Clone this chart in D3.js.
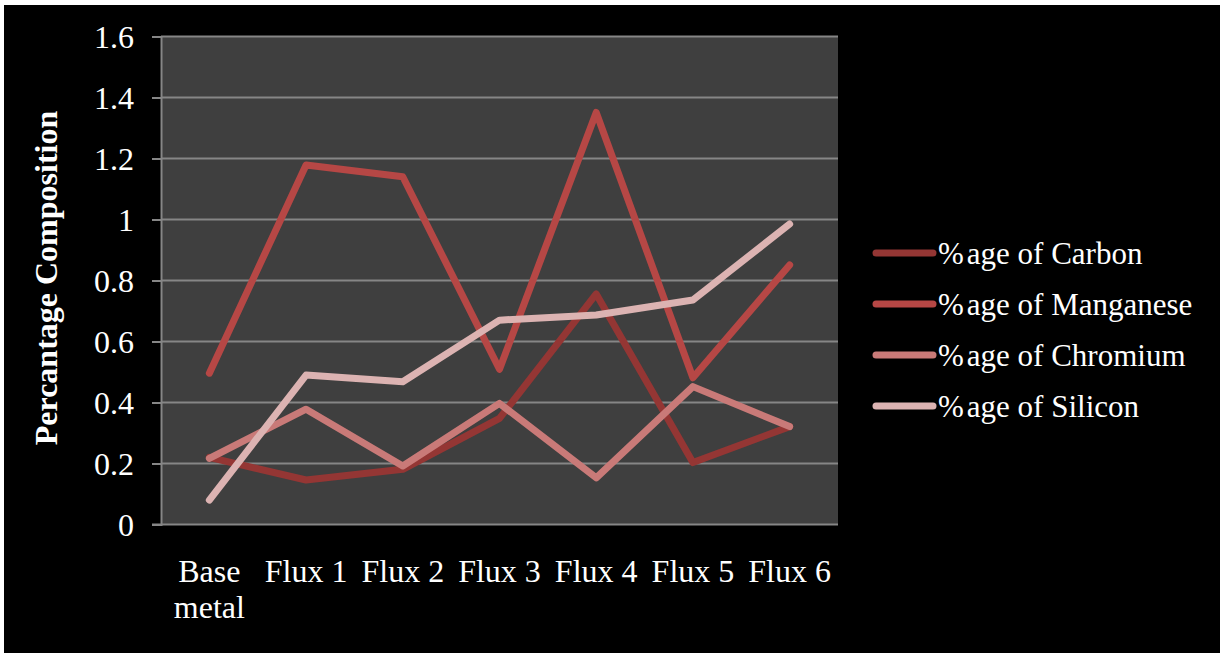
<!DOCTYPE html>
<html>
<head>
<meta charset="utf-8">
<script src="https://cdn.jsdelivr.net/npm/d3@7/dist/d3.min.js"></script>
<style>
  html, body { margin: 0; padding: 0; background: #ffffff; }
  svg { display: block; }
</style>
</head>
<body>
<script>
// Sample labels along the x axis
const categories = ["Base metal", "Flux 1", "Flux 2", "Flux 3", "Flux 4", "Flux 5", "Flux 6"];

// Composition (%) per sample
const carbon    = [0.22, 0.146, 0.181, 0.348, 0.756, 0.203, 0.321];
const manganese = [0.496, 1.179, 1.14, 0.509, 1.351, 0.481, 0.851];
const chromium  = [0.217, 0.378, 0.192, 0.397, 0.153, 0.452, 0.321];
const silicon   = [0.08, 0.49, 0.468, 0.67, 0.687, 0.736, 0.985];

const seriesNames = ["%age of Carbon", "%age of Manganese", "%age of Chromium", "%age of Silicon"];
const yTicks = [0, 0.2, 0.4, 0.6, 0.8, 1, 1.2, 1.4, 1.6];

const series = [
  { name: seriesNames[0], values: carbon,    color: "#943634" },
  { name: seriesNames[1], values: manganese, color: "#b64745" },
  { name: seriesNames[2], values: chromium,  color: "#c97a78" },
  { name: seriesNames[3], values: silicon,   color: "#dcb3b2" }
];

const W = 1220, H = 653;
const plot = { left: 161, right: 838, top: 36.5, bottom: 524.5 };
const font = "'Liberation Serif', 'Times New Roman', serif";

const svg = d3.select("body").append("svg")
  .attr("width", W).attr("height", H);

// frame
svg.append("rect").attr("x", 4).attr("y", 5).attr("width", W - 4).attr("height", H - 5)
  .attr("fill", "#000000");

const x = d3.scaleBand().domain(categories).range([plot.left, plot.right]);
const y = d3.scaleLinear().domain([0, 1.6]).range([plot.bottom, plot.top]);

// plot area
svg.append("rect")
  .attr("x", plot.left).attr("y", plot.top)
  .attr("width", plot.right - plot.left).attr("height", plot.bottom - plot.top)
  .attr("fill", "#3f3f3f");

// horizontal gridlines
svg.append("g").selectAll("line").data(yTicks.filter(d => d > 0)).join("line")
  .attr("x1", plot.left).attr("x2", plot.right)
  .attr("y1", d => y(d)).attr("y2", d => y(d))
  .attr("stroke", "#868686").attr("stroke-width", 2);

// y axis
const yAxis = svg.append("g")
  .attr("transform", `translate(${plot.left},0)`)
  .call(d3.axisLeft(y).tickValues(yTicks).tickSize(9).tickPadding(18)
    .tickFormat(d => d3.format("")(+d.toFixed(1))));
yAxis.select(".domain").attr("stroke", "#868686").attr("stroke-width", 2);
yAxis.selectAll(".tick line").attr("stroke", "#868686").attr("stroke-width", 2);
yAxis.selectAll(".tick text")
  .attr("fill", "#ffffff").attr("font-family", font).attr("font-size", 32)
  .attr("dy", "0.34em");

// x axis baseline
svg.append("line")
  .attr("x1", plot.left - 9).attr("x2", plot.right)
  .attr("y1", y(0)).attr("y2", y(0))
  .attr("stroke", "#868686").attr("stroke-width", 2);

// x category labels (wrapped)
const xl = svg.append("g").selectAll("text").data(categories).join("text")
  .attr("x", d => x(d) + x.bandwidth() / 2)
  .attr("y", 582)
  .attr("text-anchor", "middle")
  .attr("fill", "#ffffff").attr("font-family", font).attr("font-size", 32);
xl.each(function(d) {
  const words = d.startsWith("Flux") ? [d] : d.split(" ");
  const t = d3.select(this);
  words.forEach((w, i) => {
    t.append("tspan").attr("x", x(d) + x.bandwidth() / 2).attr("dy", i === 0 ? 0 : 36).text(w);
  });
});

// y axis title
svg.append("text")
  .attr("transform", "translate(57,278) rotate(-90)")
  .attr("text-anchor", "middle")
  .attr("fill", "#ffffff").attr("font-family", font).attr("font-size", 32)
  .attr("font-weight", "bold")
  .text("Percantage Composition");

// series lines
const line = d3.line()
  .x((d, i) => x(categories[i]) + x.bandwidth() / 2)
  .y(d => y(d));

svg.append("g").selectAll("path").data(series).join("path")
  .attr("d", d => line(d.values))
  .attr("fill", "none")
  .attr("stroke", d => d.color)
  .attr("stroke-width", 7)
  .attr("stroke-linecap", "round")
  .attr("stroke-linejoin", "round");

// legend
const legend = svg.append("g").selectAll("g").data(series).join("g")
  .attr("transform", (d, i) => `translate(876,${253 + i * 51})`);
legend.append("line")
  .attr("x1", 0).attr("x2", 57).attr("y1", 0).attr("y2", 0)
  .attr("stroke", d => d.color).attr("stroke-width", 7)
  .attr("stroke-linecap", "round");
const lt = legend.append("text")
  .attr("x", 62).attr("y", 11)
  .attr("fill", "#ffffff").attr("font-family", font).attr("font-size", 31);
lt.append("tspan").text(d => d.name.slice(0, 1));
lt.append("tspan").attr("dx", 3).text(d => d.name.slice(1));
</script>
</body>
</html>
